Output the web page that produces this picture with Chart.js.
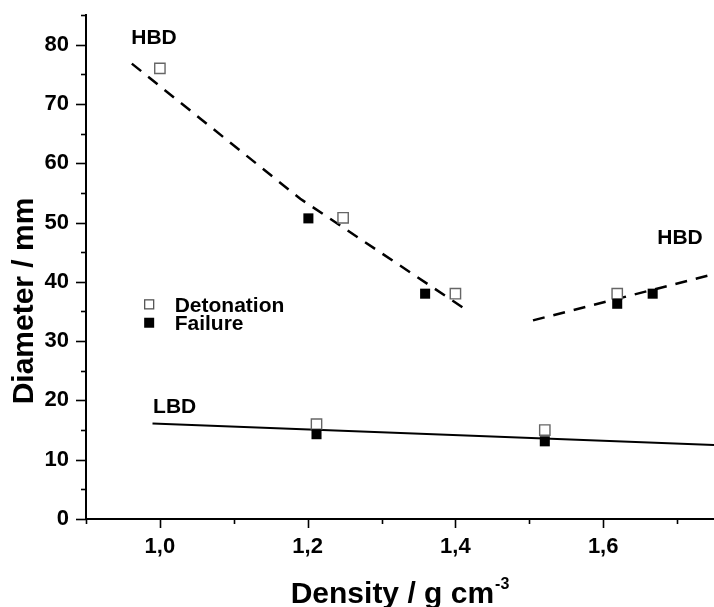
<!DOCTYPE html>
<html><head><meta charset="utf-8">
<script src="https://cdn.jsdelivr.net/npm/chart.js@4/dist/chart.umd.min.js"></script>
<style>html,body{margin:0;padding:0;background:#fff;}</style>
</head><body>
<canvas id="c" width="714" height="607" style="display:block;width:714px;height:607px"></canvas>
<script>
// ---- data ----
const detonationX = [1.0, 1.248, 1.400, 1.619, 1.212, 1.521];
const detonationY = [76.0, 50.8, 38.0, 38.0, 16.0, 15.0];
const failureX = [1.201, 1.359, 1.619, 1.667, 1.212, 1.521];
const failureY = [50.7, 38.0, 36.3, 38.0, 14.3, 13.1];
const hbdLowX = [0.962, 1.19, 1.412];
const hbdLowY = [76.8, 54.0, 35.5];
const hbdHighX = [1.505, 1.75];
const hbdHighY = [33.5, 41.3];
const lbdX = [0.99, 1.75];
const lbdY = [16.1, 12.5];
const xTickValues = [1.0, 1.2, 1.4, 1.6];
const xTickLabels = ['1,0', '1,2', '1,4', '1,6'];
const yTickValues = [0, 10, 20, 30, 40, 50, 60, 70, 80];
const yTickLabels = ['0', '10', '20', '30', '40', '50', '60', '70', '80'];
const seriesNames = ['Detonation', 'Failure'];
const regionLabels = ['HBD', 'HBD', 'LBD'];
const regionLabelX = [0.992, 1.704, 1.020];
const regionLabelY = [81.4, 47.7, 19.2];
const xTitle = 'Density / g cm';
const xTitleSup = '-3';
const yTitle = 'Diameter / mm';

const pts = (xs, ys) => xs.map((x, i) => ({x: x, y: ys[i]}));
const FONT = '"Liberation Sans", Arial, sans-serif';

const decor = {
  id: 'decor',
  afterDraw(chart) {
    const ctx = chart.ctx;
    const xs = chart.scales.x, ys = chart.scales.y;
    const area = chart.chartArea;
    ctx.save();
    ctx.strokeStyle = '#000';
    ctx.lineWidth = 1.6;
    for (let v = 0; v <= 85; v += 5) {
      const p = Math.round(ys.getPixelForValue(v)) + 0.5;
      const len = (v % 10 === 0) ? 10 : 5;
      ctx.beginPath(); ctx.moveTo(area.left, p); ctx.lineTo(area.left - len, p); ctx.stroke();
    }
    for (let k = 9; k <= 17; k++) {
      const v = k / 10;
      const p = Math.round(xs.getPixelForValue(v)) + 0.5;
      const len = (k % 2 === 0) ? 9 : 5;
      ctx.beginPath(); ctx.moveTo(p, area.bottom); ctx.lineTo(p, area.bottom + len); ctx.stroke();
    }
    ctx.fillStyle = '#000';
    ctx.font = 'bold 21px ' + FONT;
    ctx.textAlign = 'center';
    ctx.textBaseline = 'alphabetic';
    regionLabels.forEach((t, i) => {
      ctx.fillText(t, xs.getPixelForValue(regionLabelX[i]), ys.getPixelForValue(regionLabelY[i]) + 7.5);
    });
    const lx = xs.getPixelForValue(0.9855);
    const ly = [ys.getPixelForValue(36.2), ys.getPixelForValue(33.1)];
    ctx.lineWidth = 1.3;
    ctx.strokeStyle = '#555';
    ctx.fillStyle = '#fff';
    ctx.fillRect(lx - 4.5, ly[0] - 4.5, 9, 9);
    ctx.strokeRect(lx - 4.5, ly[0] - 4.5, 9, 9);
    ctx.fillStyle = '#000';
    ctx.fillRect(lx - 5, ly[1] - 5, 10, 10);
    ctx.textAlign = 'left';
    ctx.font = 'bold 21px ' + FONT;
    const tx = xs.getPixelForValue(1.020);
    ctx.fillText(seriesNames[0], tx, ly[0] + 7.5);
    ctx.fillText(seriesNames[1], tx, ly[1] + 7.5);
    ctx.font = 'bold 30px ' + FONT;
    const w1 = ctx.measureText(xTitle).width;
    ctx.font = 'bold 16px ' + FONT;
    const w2 = ctx.measureText(xTitleSup).width;
    const cx = (area.left + area.right) / 2;
    const start = cx - (w1 + w2 + 1) / 2;
    ctx.font = 'bold 30px ' + FONT;
    ctx.fillText(xTitle, start, 603);
    ctx.font = 'bold 16px ' + FONT;
    ctx.fillText(xTitleSup, start + w1 + 1, 589);
    ctx.font = 'bold 30px ' + FONT;
    ctx.translate(33, 301);
    ctx.rotate(-Math.PI / 2);
    ctx.textAlign = 'center';
    ctx.fillText(yTitle, 0, 0);
    ctx.restore();
  }
};

new Chart(document.getElementById('c'), {
  type: 'scatter',
  data: {
    datasets: [
      { label: 'HBD low', data: pts(hbdLowX, hbdLowY), showLine: true, borderColor: '#000', borderWidth: 2.5, borderDash: [12, 9], pointRadius: 0, fill: false, order: 3 },
      { label: 'HBD high', data: pts(hbdHighX, hbdHighY), showLine: true, borderColor: '#000', borderWidth: 2.5, borderDash: [12, 9], pointRadius: 0, fill: false, order: 3 },
      { label: 'LBD', data: pts(lbdX, lbdY), showLine: true, borderColor: '#000', borderWidth: 2, pointRadius: 0, fill: false, order: 3 },
      { label: seriesNames[0], data: pts(detonationX, detonationY), pointStyle: 'rect', pointRadius: 7.3, backgroundColor: '#fff', borderColor: '#666', borderWidth: 1.4, order: 2 },
      { label: seriesNames[1], data: pts(failureX, failureY), pointStyle: 'rect', pointRadius: 7.1, backgroundColor: '#000', borderColor: '#000', borderWidth: 0, order: 1 }
    ]
  },
  options: {
    responsive: false,
    animation: false,
    devicePixelRatio: 1,
    layout: { autoPadding: false, padding: { top: 15, right: 0, bottom: 0, left: 0 } },
    plugins: { legend: { display: false }, tooltip: { enabled: false } },
    scales: {
      x: {
        type: 'linear', min: 0.9, max: 1.75,
        afterFit: (s) => { s.height = 88; s.paddingLeft = 0; s.paddingRight = 0; },
        grid: { display: false, drawTicks: false },
        border: { display: true, color: '#000', width: 2 },
        ticks: {
          stepSize: 0.1, includeBounds: false, padding: 15, color: '#000', maxRotation: 0, autoSkip: false,
          font: { family: FONT, size: 22, weight: 'bold' },
          callback: (v) => { const i = xTickValues.findIndex(t => Math.abs(t - v) < 1e-6); return i >= 0 ? xTickLabels[i] : ''; }
        }
      },
      y: {
        type: 'linear', min: 0, max: 85,
        afterFit: (s) => { s.width = 86; s.paddingTop = 0; s.paddingBottom = 0; },
        grid: { display: false, drawTicks: false },
        border: { display: true, color: '#000', width: 2 },
        ticks: {
          stepSize: 5, padding: 17, color: '#000', autoSkip: false,
          font: { family: FONT, size: 22, weight: 'bold' },
          callback: (v) => { const i = yTickValues.findIndex(t => Math.abs(t - v) < 1e-6); return i >= 0 ? yTickLabels[i] : ''; }
        }
      }
    }
  },
  plugins: [decor]
});
</script>
</body></html>
